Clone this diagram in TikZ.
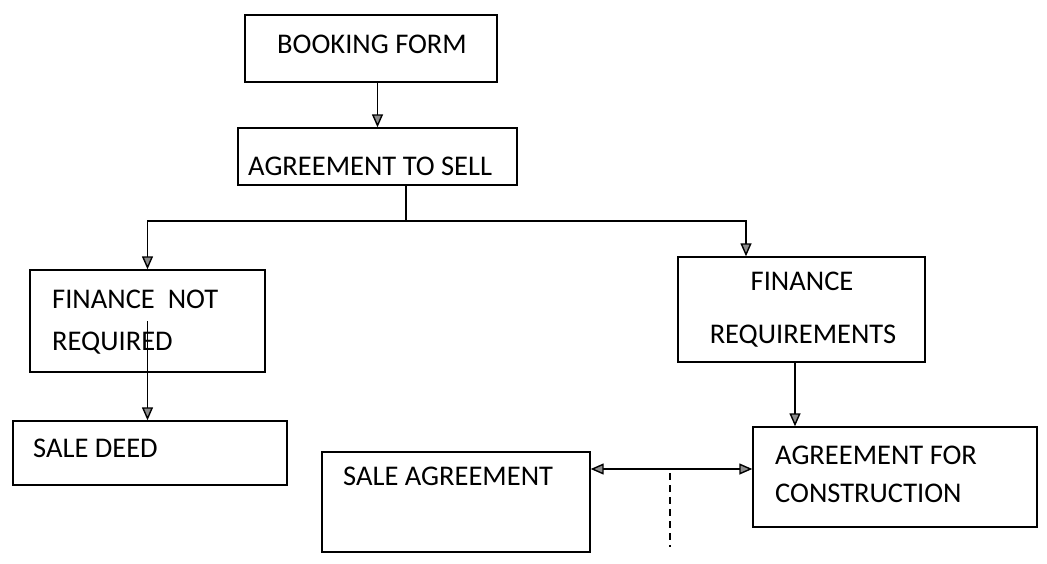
\documentclass[tikz,border=0pt]{standalone}
\usepackage{fontspec}
\setmainfont{Carlito}
\usetikzlibrary{arrows.meta}
\tikzset{
    %Define standard arrow tip
    >={Triangle[width=11pt,length=13pt,fill=black!45]},
    %Define style for boxes
    box/.style={
           rectangle,
           draw=black, line width=1.4pt,
           inner sep=0pt},
    %Define style for box texts
    txt/.style={
           inner sep=0pt,
           font=\fontsize{28.5}{34}\selectfont},
    % Define arrow style
    pil/.style={
           ->,
           line width=1.4pt},
    dsh/.style={
           line width=1.4pt,
           dash pattern=on 7pt off 5pt}
}

\begin{document}
\begin{tikzpicture}[x=1pt,y=-1pt]
\useasboundingbox (0,0) rectangle (1047,563);
% boxes
\node[box,minimum width=252pt,minimum height=67pt](1) at (371,48.5){};
\node[box,minimum width=279pt,minimum height=57pt](2) at (377.5,156.5){};
\node[box,minimum width=235pt,minimum height=102pt](3) at (147.5,321){};
\node[box,minimum width=247pt,minimum height=105pt](4) at (801.5,309.5){};
\node[box,minimum width=274pt,minimum height=64pt](5) at (150,453){};
\node[box,minimum width=284pt,minimum height=100pt](6) at (895,477){};
\node[box,minimum width=268pt,minimum height=100pt](7) at (456,502){};
% texts
\node[txt,anchor=base](t1) at (372,53){BOOKING FORM};
\node[txt,anchor=base west](t2) at (248,175){AGREEMENT TO SELL};
\node[txt,anchor=base west](t3a) at (52,308){FINANCE\ \ NOT};
\node[txt,anchor=base west](t3b) at (52,350){REQUIRED};
\node[txt,anchor=base](t4a) at (802,290){FINANCE};
\node[txt,anchor=base](t4b) at (803,343){REQUIREMENTS};
\node[txt,anchor=base west](t5) at (33,457){SALE DEED};
\node[txt,anchor=base west](t6a) at (775,464){AGREEMENT FOR};
\node[txt,anchor=base west](t6b) at (775,502){CONSTRUCTION};
\node[txt,anchor=base west](t7) at (343,485){SALE AGREEMENT};
% connectors
\coordinate (j) at (406,221);
\coordinate (r) at (746,221);
\coordinate (k) at (795,0);
\coordinate (m) at (670,469);
\coordinate (d) at (670,547);
\path (2 |- 1.south) edge[pil] (2);
\draw[line width=1.4pt] (j |- 2.south) -- (j);
\draw[pil] (j) -| (3);
\draw[pil] (j) -- (r) -- (r |- 4.north);
\draw[pil] (3.center) -- (3.center |- 5.north);
\draw[pil] (k |- 4.south) -- (k |- 6.north);
\draw[pil,<->] (7.east |- m) -- (6.west |- m);
\draw[dsh] ([yshift=-4pt]m) -- (d);
\end{tikzpicture}
\end{document}
